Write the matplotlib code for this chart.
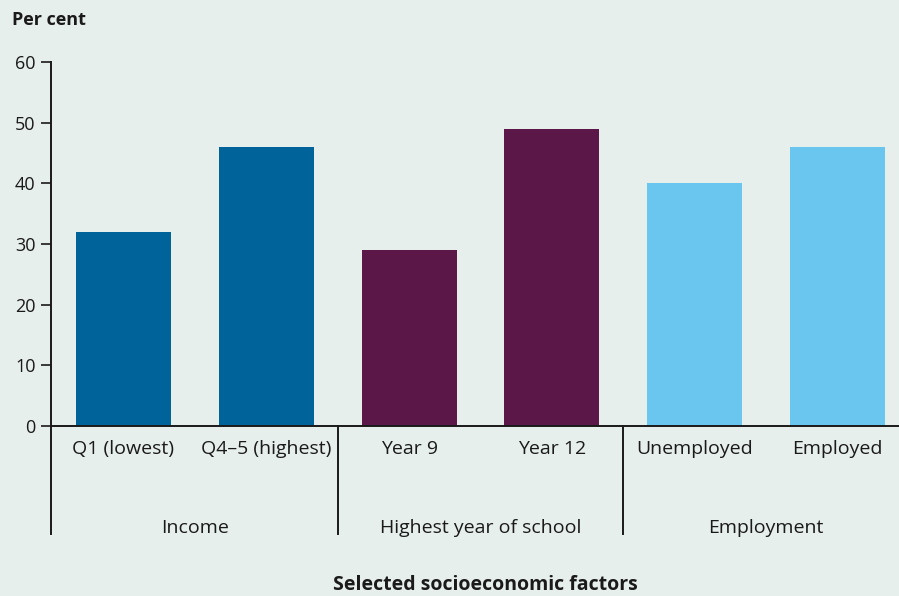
import matplotlib
matplotlib.use("Agg")
import matplotlib.pyplot as plt
from matplotlib.transforms import blended_transform_factory

# ---- Data ----
categories = ["Q1 (lowest)", "Q4\u20135 (highest)", "Year 9", "Year 12", "Unemployed", "Employed"]
values = [32, 46, 29, 49, 40, 46]
groups = ["Income", "Highest year of school", "Employment"]
group_sizes = [2, 2, 2]
group_colors = ["#00649a", "#5a1748", "#6ac6ee"]

BG = "#e6efeb"
plt.rcParams["font.family"] = ["Open Sans", "DejaVu Sans"]

W, H = 899, 596
fig = plt.figure(figsize=(W / 100, H / 100), dpi=100)
fig.patch.set_facecolor(BG)
ax = fig.add_axes([51 / W, (H - 426) / H, (W - 51) / W, (426 - 62) / H])
ax.set_facecolor(BG)

colors = []
for c, n in zip(group_colors, group_sizes):
    colors += [c] * n
x = list(range(len(categories)))
ax.bar(x, values, width=0.665, color=colors, zorder=2)

ax.set_ylim(0, 60)
ax.set_xlim(-0.507, 5.43)
ax.set_yticks(range(0, 61, 10))
ax.tick_params(axis="y", length=7, width=1.2, labelsize=13, pad=4, colors="#1a1a1a")
ax.set_xticks(x)
ax.set_xticklabels(categories)
ax.tick_params(axis="x", length=0, labelsize=14, pad=10, colors="#1a1a1a")

for s in ["top", "right"]:
    ax.spines[s].set_visible(False)
for s in ["left", "bottom"]:
    ax.spines[s].set_linewidth(1.4)
    ax.spines[s].set_color("#1a1a1a")

# group separators and group labels below the axis
trans = blended_transform_factory(ax.transData, ax.transAxes)
drop = -108 / (426 - 62)
start = 0
bounds = [-0.507]
for g, n in zip(groups, group_sizes):
    mid = start + (n - 1) / 2
    ax.text(mid, -102 / (426 - 62), g, transform=trans, ha="center", va="center",
            fontsize=14, color="#1a1a1a")
    start += n
    if start < len(categories):
        bounds.append(start - 0.5)
for b in bounds:
    ax.plot([b, b], [0, drop], transform=trans, color="#1a1a1a", lw=1.4, clip_on=False)

fig.text(12 / W, 1 - 20 / H, "Per cent", fontsize=13, fontweight="bold", va="center", color="#1a1a1a")
fig.text(485 / W, 1 - 585 / H, "Selected socioeconomic factors", fontsize=14, fontweight="bold",
         ha="center", va="center", color="#1a1a1a")

fig.savefig("out.png", dpi=100, facecolor=BG)
